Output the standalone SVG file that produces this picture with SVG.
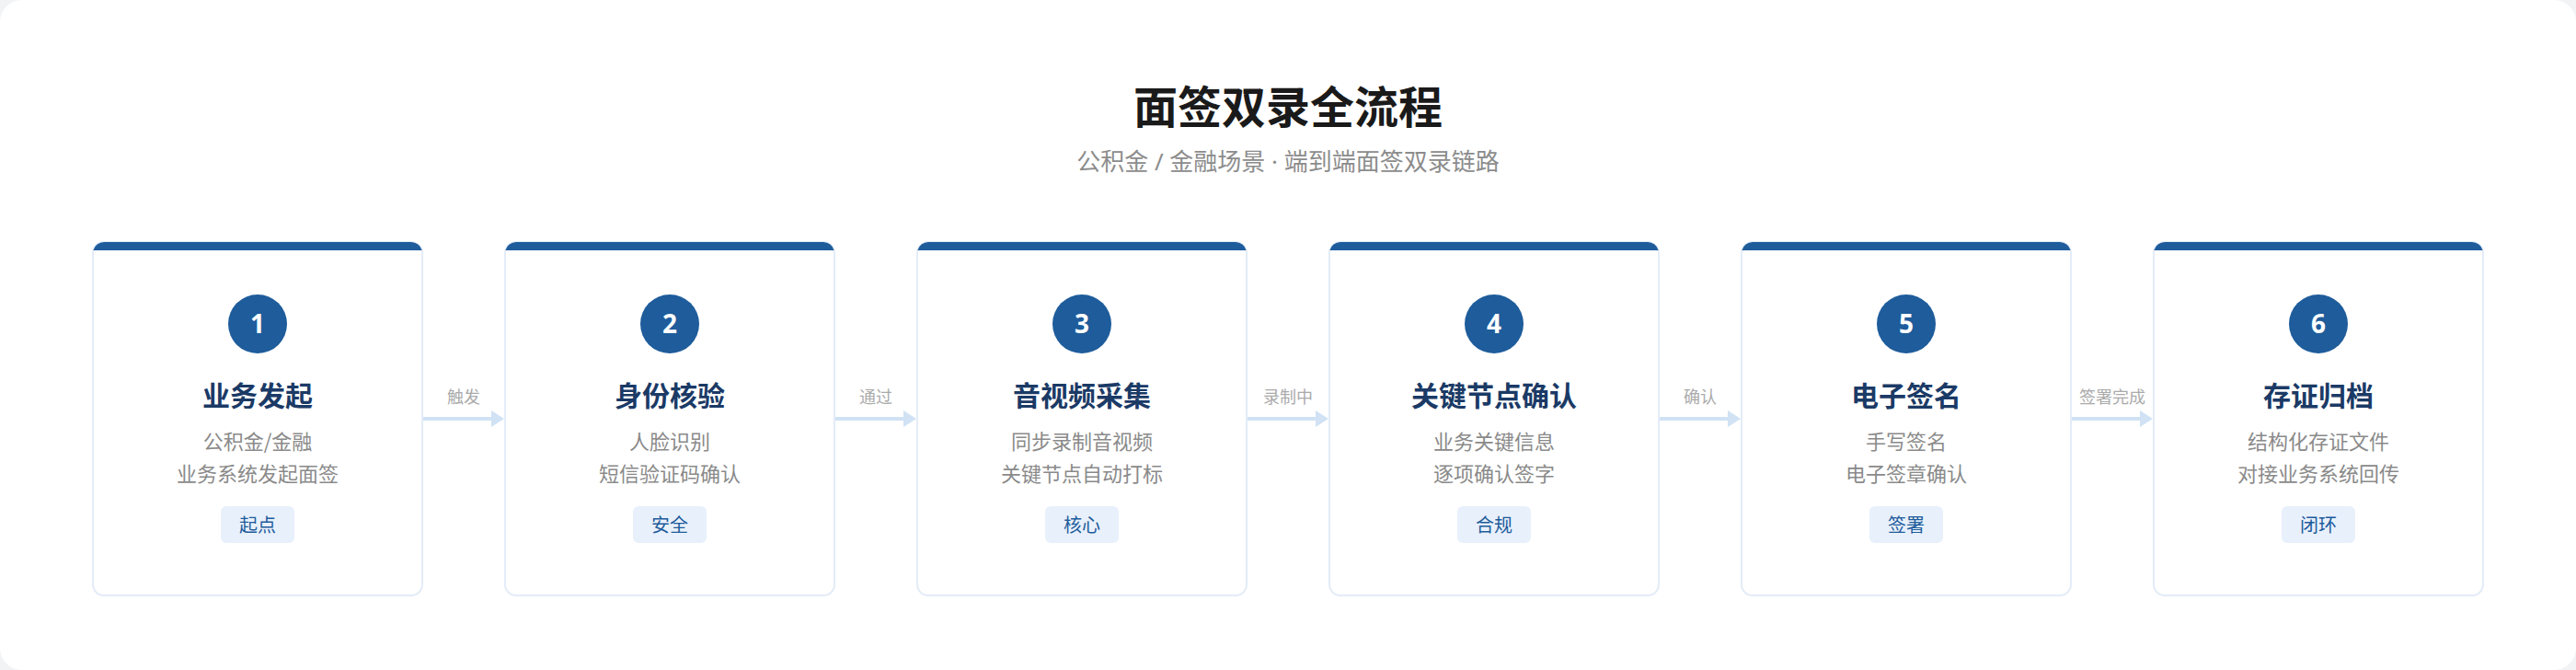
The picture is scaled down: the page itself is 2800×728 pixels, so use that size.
<svg xmlns="http://www.w3.org/2000/svg" width="2800" height="728" viewBox="0 0 2800 728">
<defs>
<style>
.cjk{font-family:"Noto Sans CJK SC","Noto Sans",sans-serif;}
.lat{font-family:"Noto Sans","Liberation Sans",sans-serif;}
.title{font-size:48px;font-weight:700;fill:#1a1a1a;text-anchor:middle;}
.sub{font-size:26px;fill:#8c8c8c;text-anchor:middle;}
.card{fill:#ffffff;stroke:#e3ecf8;stroke-width:2;}
.bar{fill:#1e5c9b;}
.circ{fill:#1e5c9b;}
.num{font-family:"Noto Sans","Roboto",sans-serif;font-size:28px;font-weight:700;fill:#ffffff;text-anchor:middle;}
.ntitle{font-size:30px;font-weight:700;fill:#1b3a66;text-anchor:middle;}
.desc{font-size:22px;fill:#8a8a8a;text-anchor:middle;}
.tagbg{fill:#e8f0fb;}
.tag{font-size:20px;fill:#1e5c9b;text-anchor:middle;}
.conn{stroke:#d0e2f4;stroke-width:4;fill:none;}
.head{fill:#d0e2f4;}
.lbl{font-size:18px;fill:#aaaaaa;text-anchor:middle;}
</style>
<path id="topbar" d="M101.4,272 A12,12 0 0 1 113,263 H447 A12,12 0 0 1 458.6,272 Z"/>
</defs>
<rect x="0" y="0" width="2800" height="728" fill="#f2f3f5"/>
<rect x="0" y="0" width="2800" height="728" rx="24" fill="#ffffff"/>
<g id="header">
<text class="cjk title" x="1400" y="134">面签双录全流程</text>
<text class="cjk sub" x="1400" y="185">公积金<tspan class="lat"> / </tspan>金融场景<tspan class="lat"> · </tspan>端到端面签双录链路</text>
</g>
<g id="connectors">
<g id="c1"><line class="conn" x1="460" y1="455" x2="536" y2="455"/><polygon class="head" points="534,446 548,455 534,464"/><text class="cjk lbl" x="504" y="438">触发</text></g>
<g id="c2" transform="translate(448,0)"><line class="conn" x1="460" y1="455" x2="536" y2="455"/><polygon class="head" points="534,446 548,455 534,464"/><text class="cjk lbl" x="504" y="438">通过</text></g>
<g id="c3" transform="translate(896,0)"><line class="conn" x1="460" y1="455" x2="536" y2="455"/><polygon class="head" points="534,446 548,455 534,464"/><text class="cjk lbl" x="504" y="438">录制中</text></g>
<g id="c4" transform="translate(1344,0)"><line class="conn" x1="460" y1="455" x2="536" y2="455"/><polygon class="head" points="534,446 548,455 534,464"/><text class="cjk lbl" x="504" y="438">确认</text></g>
<g id="c5" transform="translate(1792,0)"><line class="conn" x1="460" y1="455" x2="536" y2="455"/><polygon class="head" points="534,446 548,455 534,464"/><text class="cjk lbl" x="504" y="438">签署完成</text></g>
</g>
<g id="node1">
<rect class="card" x="101" y="263" width="358" height="384" rx="12"/>
<use href="#topbar" class="bar"/>
<circle class="circ" cx="280" cy="352" r="32"/>
<text class="num" x="280" y="362">1</text>
<text class="cjk ntitle" x="280" y="441">业务发起</text>
<text class="cjk desc" x="280" y="488">公积金/金融</text>
<text class="cjk desc" x="280" y="523">业务系统发起面签</text>
<rect class="tagbg" x="240" y="550" width="80" height="40" rx="6"/>
<text class="cjk tag" x="280" y="578">起点</text>
</g>
<g id="node2" transform="translate(448,0)">
<rect class="card" x="101" y="263" width="358" height="384" rx="12"/>
<use href="#topbar" class="bar"/>
<circle class="circ" cx="280" cy="352" r="32"/>
<text class="num" x="280" y="362">2</text>
<text class="cjk ntitle" x="280" y="441">身份核验</text>
<text class="cjk desc" x="280" y="488">人脸识别</text>
<text class="cjk desc" x="280" y="523">短信验证码确认</text>
<rect class="tagbg" x="240" y="550" width="80" height="40" rx="6"/>
<text class="cjk tag" x="280" y="578">安全</text>
</g>
<g id="node3" transform="translate(896,0)">
<rect class="card" x="101" y="263" width="358" height="384" rx="12"/>
<use href="#topbar" class="bar"/>
<circle class="circ" cx="280" cy="352" r="32"/>
<text class="num" x="280" y="362">3</text>
<text class="cjk ntitle" x="280" y="441">音视频采集</text>
<text class="cjk desc" x="280" y="488">同步录制音视频</text>
<text class="cjk desc" x="280" y="523">关键节点自动打标</text>
<rect class="tagbg" x="240" y="550" width="80" height="40" rx="6"/>
<text class="cjk tag" x="280" y="578">核心</text>
</g>
<g id="node4" transform="translate(1344,0)">
<rect class="card" x="101" y="263" width="358" height="384" rx="12"/>
<use href="#topbar" class="bar"/>
<circle class="circ" cx="280" cy="352" r="32"/>
<text class="num" x="280" y="362">4</text>
<text class="cjk ntitle" x="280" y="441">关键节点确认</text>
<text class="cjk desc" x="280" y="488">业务关键信息</text>
<text class="cjk desc" x="280" y="523">逐项确认签字</text>
<rect class="tagbg" x="240" y="550" width="80" height="40" rx="6"/>
<text class="cjk tag" x="280" y="578">合规</text>
</g>
<g id="node5" transform="translate(1792,0)">
<rect class="card" x="101" y="263" width="358" height="384" rx="12"/>
<use href="#topbar" class="bar"/>
<circle class="circ" cx="280" cy="352" r="32"/>
<text class="num" x="280" y="362">5</text>
<text class="cjk ntitle" x="280" y="441">电子签名</text>
<text class="cjk desc" x="280" y="488">手写签名</text>
<text class="cjk desc" x="280" y="523">电子签章确认</text>
<rect class="tagbg" x="240" y="550" width="80" height="40" rx="6"/>
<text class="cjk tag" x="280" y="578">签署</text>
</g>
<g id="node6" transform="translate(2240,0)">
<rect class="card" x="101" y="263" width="358" height="384" rx="12"/>
<use href="#topbar" class="bar"/>
<circle class="circ" cx="280" cy="352" r="32"/>
<text class="num" x="280" y="362">6</text>
<text class="cjk ntitle" x="280" y="441">存证归档</text>
<text class="cjk desc" x="280" y="488">结构化存证文件</text>
<text class="cjk desc" x="280" y="523">对接业务系统回传</text>
<rect class="tagbg" x="240" y="550" width="80" height="40" rx="6"/>
<text class="cjk tag" x="280" y="578">闭环</text>
</g>
</svg>
